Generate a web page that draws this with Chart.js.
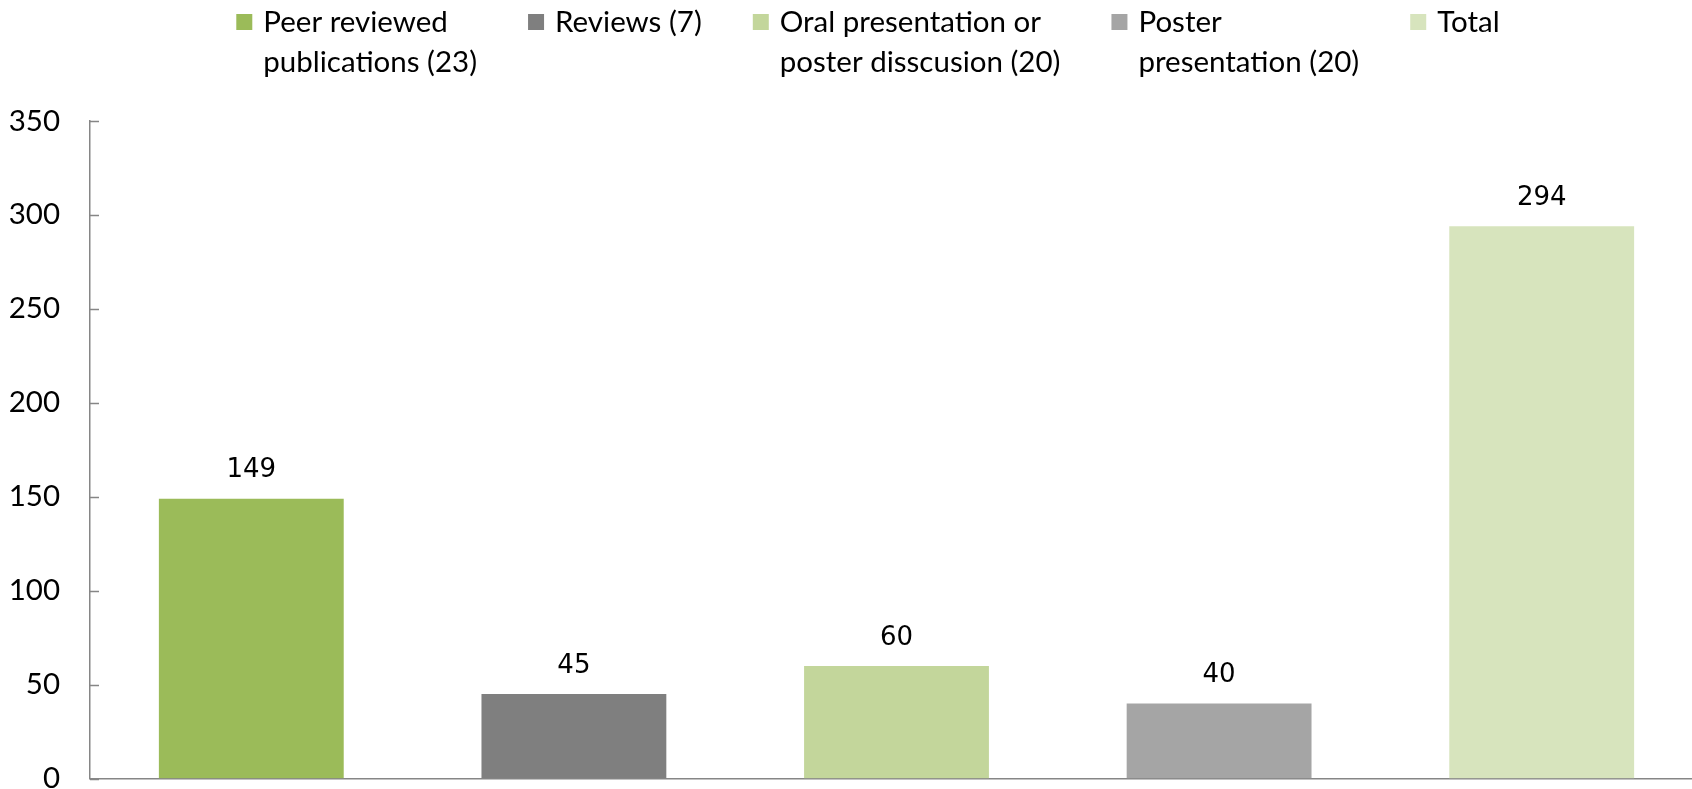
<!DOCTYPE html>
<html>
<head>
<meta charset="utf-8">
<title>Publications</title>
<script src="https://cdn.jsdelivr.net/npm/chart.js@4/dist/chart.umd.min.js"></script>
<style>
  html, body { margin: 0; padding: 0; background: #fff; overflow: hidden; }
  /* plot area in the original runs slightly past the right edge */
  #wrap { width: 1692px; height: 789px; overflow: hidden; }
</style>
</head>
<body>
<div id="wrap"><canvas id="pubChart" width="1703" height="789"></canvas></div>
<script>
// categories (legend text, split into the two lines shown)
const categories = [
  ['Peer reviewed', 'publications (23)'],
  ['Reviews (7)'],
  ['Oral presentation or', 'poster disscusion (20)'],
  ['Poster', 'presentation (20)'],
  ['Total']
];
const counts = [149, 45, 60, 40, 294];
const barColors = ['#9BBB59', '#7F7F7F', '#C3D69B', '#A5A5A5', '#D7E4BD'];
const yTicks = [0, 50, 100, 150, 200, 250, 300, 350];

const FONT = 'Lato, "Open Sans", sans-serif';
const AXIS_GREY = '#868686';

// value labels above each bar
const valueLabels = {
  id: 'valueLabels',
  afterDatasetsDraw(chart) {
    const ctx = chart.ctx;
    const meta = chart.getDatasetMeta(0);
    ctx.save();
    ctx.font = '26px "DejaVu Sans", sans-serif';
    ctx.fillStyle = '#000';
    ctx.textAlign = 'center';
    ctx.textBaseline = 'middle';
    meta.data.forEach((bar, i) => {
      ctx.fillText(String(counts[i]), bar.x, bar.y - 28);
    });
    ctx.restore();
  }
};

// tick marks pointing into the plot, like the original
const innerTicks = {
  id: 'innerTicks',
  afterDraw(chart) {
    const ctx = chart.ctx;
    const y = chart.scales.y;
    const left = chart.chartArea.left;
    ctx.save();
    ctx.strokeStyle = AXIS_GREY;
    ctx.lineWidth = 1.5;
    yTicks.forEach(v => {
      const py = Math.round(y.getPixelForValue(v)) + 0.5;
      ctx.beginPath();
      ctx.moveTo(left, py);
      ctx.lineTo(left + 9, py);
      ctx.stroke();
    });
    ctx.restore();
  }
};

// legend along the top, two-line labels
const topLegend = {
  id: 'topLegend',
  afterDraw(chart) {
    const ctx = chart.ctx;
    const box = 16, boxGap = 11, itemGap = 51, lineH = 40, firstY = 22;
    ctx.save();
    ctx.font = '29.5px ' + FONT;
    ctx.textBaseline = 'middle';
    ctx.textAlign = 'left';
    const widths = categories.map(lines =>
      box + boxGap + Math.max(...lines.map(l => ctx.measureText(l).width)));
    const total = widths.reduce((a, b) => a + b, 0) + itemGap * (widths.length - 1);
    let x = 868 - total / 2;
    categories.forEach((lines, i) => {
      ctx.fillStyle = barColors[i];
      ctx.fillRect(x, firstY - box / 2, box, box);
      ctx.fillStyle = '#000';
      lines.forEach((l, k) => ctx.fillText(l, x + box + boxGap, firstY + k * lineH));
      x += widths[i] + itemGap;
    });
    ctx.restore();
  }
};

new Chart(document.getElementById('pubChart'), {
  type: 'bar',
  data: {
    labels: categories,
    datasets: [{
      data: counts,
      backgroundColor: barColors,
      borderWidth: 0,
      categoryPercentage: 1,
      barPercentage: 0.573
    }]
  },
  options: {
    responsive: false,
    animation: false,
    layout: { padding: { top: 121, right: 0, bottom: 0, left: 0 } },
    plugins: {
      legend: { display: false },
      tooltip: { enabled: false }
    },
    scales: {
      x: {
        afterFit: scale => { scale.height = 0; },
        grid: { display: false },
        ticks: { display: false },
        border: { display: true, color: AXIS_GREY, width: 1.5 }
      },
      y: {
        min: 0,
        max: 350,
        afterBuildTicks: scale => { scale.ticks = yTicks.map(v => ({ value: v })); },
        afterFit: scale => { scale.width = 90; },
        // invisible tick marks just to push the labels off the axis
        grid: { drawOnChartArea: false, drawTicks: true, tickLength: 30, tickColor: 'rgba(0,0,0,0)' },
        border: { display: true, color: AXIS_GREY, width: 1.5 },
        ticks: {
          color: '#000',
          padding: 0,
          font: { family: FONT, size: 29.5, lineHeight: 0.7 }
        }
      }
    }
  },
  plugins: [valueLabels, innerTicks, topLegend]
});
</script>
</body>
</html>
